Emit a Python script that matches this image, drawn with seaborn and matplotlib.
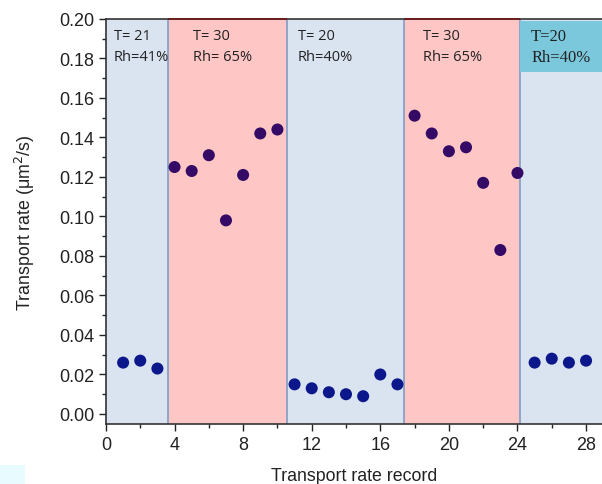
import matplotlib
matplotlib.use("Agg")
import matplotlib.pyplot as plt
import seaborn as sns
import pandas as pd
from matplotlib.patches import Rectangle
from matplotlib.ticker import MultipleLocator

# data
record = list(range(1, 29))
rate = [0.026, 0.027, 0.023,
        0.125, 0.123, 0.131, 0.098, 0.121, 0.142, 0.144,
        0.015, 0.013, 0.011, 0.010, 0.009, 0.020, 0.015,
        0.151, 0.142, 0.133, 0.135, 0.117, 0.083, 0.122,
        0.026, 0.028, 0.026, 0.027]
condition = ['low'] * 3 + ['high'] * 7 + ['low'] * 7 + ['high'] * 7 + ['low'] * 4

# shaded stages: start, end, kind
stage_edges = [0, 3.6, 10.55, 17.4, 24.15, 29]
stage_kind = ['low', 'high', 'low', 'high', 'low']
stage_text = ['T= 21\nRh=41%', 'T= 30\nRh= 65%', 'T= 20\nRh=40%', 'T= 30\nRh= 65%', 'T=20\nRh=40%']
stage_text_x = [0.45, 5.05, 11.2, 18.5, 24.8]

df = pd.DataFrame({'record': record, 'rate': rate, 'condition': condition})

sns.set_theme(style="ticks")
plt.rcParams['font.family'] = ['Liberation Sans', 'DejaVu Sans']

fig = plt.figure(figsize=(6.02, 4.85), dpi=100)
ax = fig.add_axes([0.176, 0.124, 0.826, 0.835])

fills = {'low': '#dae3f0', 'high': '#ffc6c6'}
for k in range(len(stage_kind)):
    ax.axvspan(stage_edges[k], stage_edges[k + 1], color=fills[stage_kind[k]], lw=0, zorder=0)
    if stage_kind[k] == 'high':
        ax.hlines(0.2, stage_edges[k], stage_edges[k + 1], color='#6e1a1a', lw=1.3, zorder=5, clip_on=False)
for e in stage_edges[1:-1]:
    ax.axvline(e, color='#7f9bc6', lw=1.2, zorder=1)

sns.scatterplot(data=df, x='record', y='rate', hue='condition',
                palette={'low': '#0b178a', 'high': '#340a66'},
                s=75, edgecolor='none', legend=False, ax=ax, zorder=3)

for k in range(len(stage_text)):
    if k == len(stage_text) - 1:
        ax.add_patch(Rectangle((24.15, 0.1732), 4.85, 0.0258, color='#7bc8dd', lw=0, zorder=2))
        ax.text(stage_text_x[k], 0.1955, stage_text[k], fontsize=12, family=['Liberation Serif', 'DejaVu Serif'],
                va='top', ha='left', linespacing=1.4, color='#222222', zorder=4)
    else:
        ax.text(stage_text_x[k], 0.1955, stage_text[k], fontsize=10.5, family=['Open Sans', 'DejaVu Sans'],
                va='top', ha='left', linespacing=1.55, color='#222222', zorder=4)

ax.set_xlim(0, 29)
ax.set_ylim(-0.005, 0.2)
ax.set_xticks([0, 4, 8, 12, 16, 20, 24, 28])
ax.xaxis.set_minor_locator(MultipleLocator(2))
ax.set_yticks([0.00, 0.02, 0.04, 0.06, 0.08, 0.10, 0.12, 0.14, 0.16, 0.18, 0.20])
ax.yaxis.set_minor_locator(MultipleLocator(0.01))
ax.yaxis.set_major_formatter(matplotlib.ticker.FormatStrFormatter('%.2f'))
ax.tick_params(which='major', direction='out', length=5, width=1, labelsize=13, colors='#222222')
ax.tick_params(which='minor', direction='out', length=3, width=1, colors='#222222')
ax.spines['right'].set_visible(False)
for s in ['left', 'bottom', 'top']:
    ax.spines[s].set_color('#333333')
    ax.spines[s].set_linewidth(1.2)

ax.set_xlabel('Transport rate record', fontsize=12.8, color='#222222', labelpad=10)
ax.set_ylabel('Transport rate (\u03bcm$^2$/s)', fontsize=12.8, color='#222222', labelpad=16)

fig.patches.append(Rectangle((0, 0), 0.042, 0.04, transform=fig.transFigure, color='#e8fbff', lw=0))

fig.savefig('out.png', dpi=100)
